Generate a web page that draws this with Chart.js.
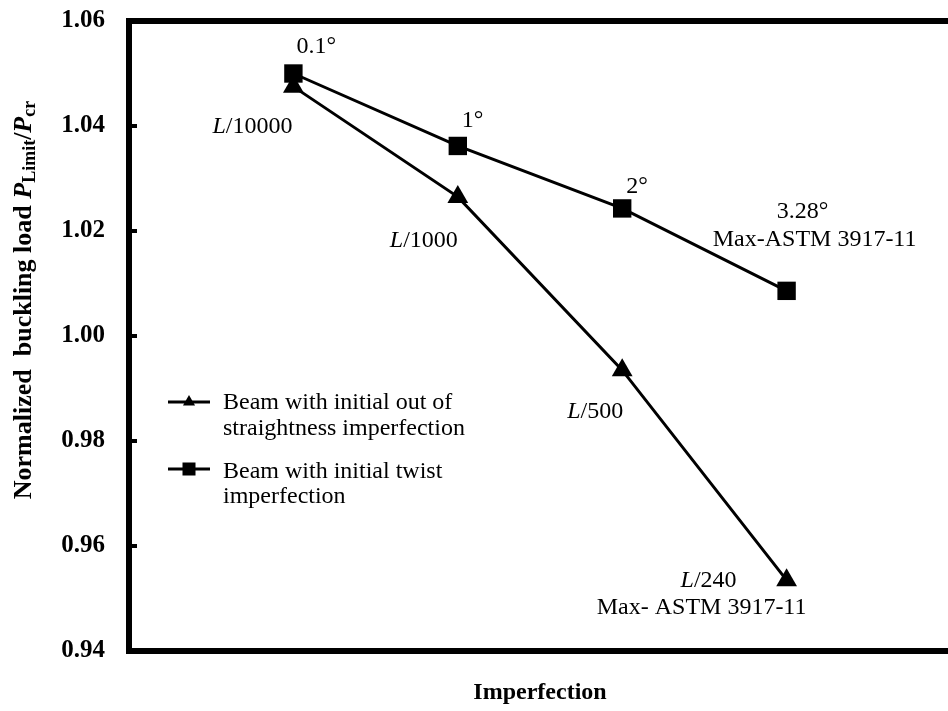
<!DOCTYPE html>
<html>
<head>
<meta charset="utf-8">
<script src="https://cdn.jsdelivr.net/npm/chart.js@4.4.1/dist/chart.umd.min.js"></script>
<style>
  html, body { margin: 0; padding: 0; background: #fff; overflow: hidden; }
  #wrap { width: 970px; height: 711px; }
</style>
</head>
<body>
<div id="wrap"><canvas id="c" width="970" height="711"></canvas></div>
<script>
// Imperfection levels placed along the horizontal axis
const imperfectionSteps = [1, 2, 3, 4];

// Normalized buckling load P_Limit / P_cr for each imperfection level
const straightnessLoads = [1.0475, 1.0265, 0.9935, 0.9535];
const twistLoads = [1.0500, 1.0362, 1.0243, 1.0086];

// Point annotations
const straightnessTags = [['L/10000'], ['L/1000'], ['L/500'], ['L/240', 'Max- ASTM 3917-11']];
const twistTags = [['0.1°'], ['1°'], ['2°'], ['3.28°', 'Max-ASTM 3917-11']];

// Legend text (wrapped)
const seriesNames = [
  ['Beam with initial out of', 'straightness imperfection'],
  ['Beam with initial twist', 'imperfection']
];

// Y tick values
const yTicks = [0.94, 0.96, 0.98, 1.00, 1.02, 1.04, 1.06];

const SERIF = '"Liberation Serif", "Times New Roman", Times, serif';

function toPoints(xs, ys) {
  return xs.map((x, i) => ({ x: x, y: ys[i] }));
}

// Text placement for annotations relative to each point: [dx, dy, align] per line
const straightTagPlace = [
  [[-1, 40, 'right']],
  [[-34, 44, 'center']],
  [[-27, 42, 'center']],
  [[-78, 1, 'center'], [-85, 28, 'center']]
];
const twistTagPlace = [
  [[3, -27, 'left']],
  [[4, -25, 'left']],
  [[4, -22, 'left']],
  [[16, -79, 'center'], [28, -51, 'center']]
];

// Draw a label where a leading "L" is italic
function drawTag(ctx, text, x, y, align) {
  const normal = '24px ' + SERIF;
  const italic = 'italic 24px ' + SERIF;
  let parts;
  if (text.startsWith('L/')) {
    parts = [{ t: 'L', f: italic }, { t: text.slice(1), f: normal }];
  } else {
    parts = [{ t: text, f: normal }];
  }
  let total = 0;
  parts.forEach(p => { ctx.font = p.f; p.w = ctx.measureText(p.t).width; total += p.w; });
  let sx = x;
  if (align === 'center') sx = x - total / 2;
  else if (align === 'right') sx = x - total;
  ctx.textAlign = 'left';
  ctx.textBaseline = 'middle';
  parts.forEach(p => { ctx.font = p.f; ctx.fillText(p.t, sx, y); sx += p.w; });
}

const decorPlugin = {
  id: 'decor',
  afterDatasetsDraw(chart) {
    const ctx = chart.ctx;
    const area = chart.chartArea;
    const ys = chart.scales.y;
    ctx.save();
    ctx.fillStyle = '#000';
    ctx.strokeStyle = '#000';

    // Annotations next to the markers
    const metas = [chart.getDatasetMeta(0), chart.getDatasetMeta(1)];
    const tagSets = [straightnessTags, twistTags];
    const places = [straightTagPlace, twistTagPlace];
    metas.forEach((meta, di) => {
      meta.data.forEach((pt, i) => {
        tagSets[di][i].forEach((line, li) => {
          const pl = places[di][i][li];
          drawTag(ctx, line, pt.x + pl[0], pt.y + pl[1], pl[2]);
        });
      });
    });

    // Frame around the plot area
    ctx.lineWidth = 6;
    ctx.lineJoin = 'miter';
    ctx.strokeRect(area.left, area.top, area.right - area.left, area.bottom - area.top);

    // Inward tick marks on the value axis
    ctx.lineWidth = 4;
    yTicks.forEach(v => {
      const py = ys.getPixelForValue(v);
      ctx.beginPath();
      ctx.moveTo(area.left, py);
      ctx.lineTo(area.left + 8, py);
      ctx.stroke();
    });

    // Legend
    const legendRows = [
      { y: 402, base: [409, 435], style: 'triangle' },
      { y: 469, base: [478, 503], style: 'rect' }
    ];
    legendRows.forEach((row, i) => {
      ctx.lineWidth = 3;
      ctx.beginPath();
      ctx.moveTo(168, row.y);
      ctx.lineTo(210, row.y);
      ctx.stroke();
      const mx = 189;
      ctx.beginPath();
      if (row.style === 'triangle') {
        const r = 7;
        ctx.moveTo(mx, row.y - r);
        ctx.lineTo(mx + r * 0.866, row.y + r * 0.5);
        ctx.lineTo(mx - r * 0.866, row.y + r * 0.5);
        ctx.closePath();
        ctx.fill();
      } else {
        ctx.fillRect(mx - 6.5, row.y - 6.5, 13, 13);
      }
      ctx.font = '24px ' + SERIF;
      ctx.textAlign = 'left';
      ctx.textBaseline = 'alphabetic';
      seriesNames[i].forEach((ln, li) => ctx.fillText(ln, 223, row.base[li]));
    });

    // Value-axis title with italic symbols and subscripts
    const segs = [
      { t: 'Normalized  buckling load ', f: 'bold 26px ' + SERIF, dy: 0 },
      { t: 'P', f: 'italic bold 26px ' + SERIF, dy: 0 },
      { t: 'Limit', f: 'bold 18px ' + SERIF, dy: 6 },
      { t: '/', f: 'bold 26px ' + SERIF, dy: 0 },
      { t: 'P', f: 'italic bold 26px ' + SERIF, dy: 0 },
      { t: 'cr', f: 'bold 18px ' + SERIF, dy: 6 }
    ];
    let total = 0;
    segs.forEach(s => { ctx.font = s.f; s.w = ctx.measureText(s.t).width; total += s.w; });
    ctx.translate(24, 300);
    ctx.rotate(-Math.PI / 2);
    ctx.textAlign = 'left';
    ctx.textBaseline = 'middle';
    let sx = -total / 2;
    segs.forEach(s => { ctx.font = s.f; ctx.fillText(s.t, sx, s.dy); sx += s.w; });
    ctx.restore();
  }
};

new Chart(document.getElementById('c'), {
  type: 'line',
  data: {
    datasets: [
      {
        label: seriesNames[0].join(' '),
        data: toPoints(imperfectionSteps, straightnessLoads),
        borderColor: '#000',
        backgroundColor: '#000',
        borderWidth: 3,
        pointStyle: 'triangle',
        pointRadius: 12,
        pointBorderWidth: 0,
        pointBackgroundColor: '#000',
        tension: 0
      },
      {
        label: seriesNames[1].join(' '),
        data: toPoints(imperfectionSteps, twistLoads),
        borderColor: '#000',
        backgroundColor: '#000',
        borderWidth: 3,
        pointStyle: 'rect',
        pointRadius: 13,
        pointBorderWidth: 0,
        pointBackgroundColor: '#000',
        tension: 0
      }
    ]
  },
  options: {
    responsive: false,
    animation: false,
    devicePixelRatio: 1,
    layout: { padding: { top: 21, right: 19, left: 0, bottom: 0 } },
    plugins: {
      legend: { display: false },
      tooltip: { enabled: false }
    },
    scales: {
      x: {
        type: 'linear',
        min: 0,
        max: 5,
        ticks: { display: false },
        grid: { display: false, drawTicks: false },
        border: { display: false },
        title: {
          display: true,
          text: 'Imperfection',
          color: '#000',
          font: { family: SERIF, size: 24, weight: 'bold' },
          padding: { top: 0, bottom: 4 }
        },
        afterFit(scale) {
          scale.height = 60;
          scale.paddingLeft = 0; scale.paddingRight = 0;
          scale.paddingTop = 0; scale.paddingBottom = 0;
        }
      },
      y: {
        min: 0.94,
        max: 1.06,
        afterBuildTicks(scale) { scale.ticks = yTicks.map(v => ({ value: v })); },
        ticks: {
          color: '#000',
          font: { family: SERIF, size: 25, weight: 'bold' },
          padding: 24,
          callback: v => Number(v).toFixed(2)
        },
        grid: { display: false, drawTicks: false },
        border: { display: false },
        afterFit(scale) {
          scale.width = 129;
          scale.paddingLeft = 0; scale.paddingRight = 0;
          scale.paddingTop = 0; scale.paddingBottom = 0;
        }
      }
    }
  },
  plugins: [decorPlugin]
});
</script>
</body>
</html>
